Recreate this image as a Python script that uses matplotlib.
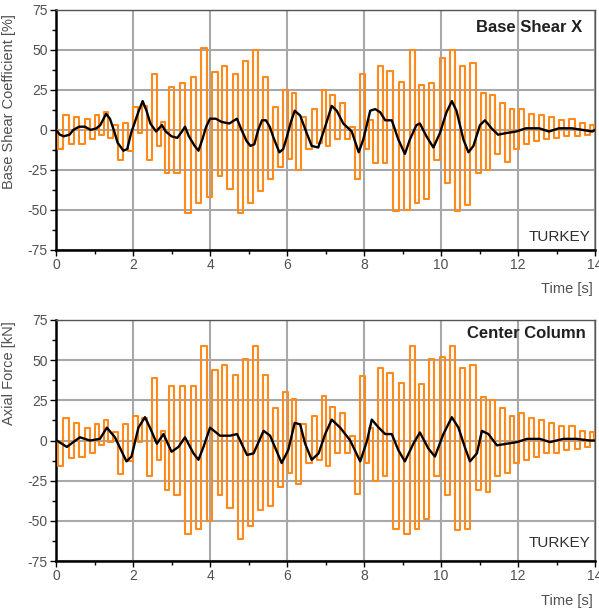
import matplotlib
matplotlib.use("Agg")
import matplotlib.pyplot as plt
import numpy as np
from matplotlib.ticker import MultipleLocator

plt.rcParams['font.family'] = ['Liberation Sans', 'DejaVu Sans']
plt.rcParams['axes.unicode_minus'] = False

# ---------------- data ----------------
# orange (high-frequency) series: time of each extreme [s]
t_orange = [0.00, 0.10, 0.28, 0.40, 0.55, 0.67, 0.82, 0.93, 1.07, 1.18, 1.30, 1.42, 1.55, 1.66,
            1.82, 1.94, 2.07, 2.18, 2.30, 2.42, 2.57, 2.68, 2.78, 2.88, 3.00, 3.15, 3.28, 3.43,
            3.57, 3.69, 3.85, 3.97, 4.13, 4.26, 4.36, 4.52, 4.65, 4.78, 4.94, 5.04, 5.17, 5.30,
            5.43, 5.56, 5.70, 5.82, 5.96, 6.08, 6.18, 6.31, 6.44, 6.57, 6.70, 6.83, 6.96, 7.06,
            7.18, 7.31, 7.44, 7.57, 7.70, 7.82, 7.95, 8.08, 8.18, 8.31, 8.42, 8.54, 8.66, 8.85,
            8.97, 9.11, 9.26, 9.38, 9.49, 9.62, 9.75, 9.88, 10.04, 10.16, 10.30, 10.43, 10.56,
            10.68, 10.84, 10.98, 11.10, 11.22, 11.34, 11.46, 11.60, 11.72, 11.85, 11.96, 12.10,
            12.22, 12.36, 12.48, 12.62, 12.74, 12.88, 13.00, 13.15, 13.26, 13.41, 13.52, 13.67,
            13.78, 13.93, 14.00]

shear_orange = [0, -12, 9, -9, 8, -9, 7, -6, 9, -3, 11, -5, 3, -19,
                4, -13, 14, -2, 15, -19, 35, -10, 5, -27, 27, -27, 29, -52,
                33, -46, 51, -42, 36, -29, 40, -37, 35, -52, 43, -46, 50, -38,
                33, -31, 14, -23, 25, -18, 23, -25, 8, -12, 13, -8, 25, -10,
                22, -6, 17, -6, 2, -31, 35, -12, 6, -21, 40, -21, 37, -51,
                30, -50, 50, -46, 28, -43, 29, -19, 45, -33, 50, -51, 40,
                -47, 42, -27, 23, -25, 22, -15, 17, -20, 13, -12, 13,
                -9, 10, -7, 9, -6, 8, -5, 6, -4, 7, -4, 4,
                -3, 3, 0]

axial_orange = [0, -16, 14, -11, 11, -10, 8, -8, 10, -3, 13, -1, 5, -21,
                10, -13, 15, -1, 14, -22, 39, -12, 6, -31, 34, -34, 34, -58,
                34, -55, 59, -50, 44, -34, 47, -42, 41, -61, 51, -53, 59, -43,
                41, -41, 20, -29, 30, -20, 26, -27, 10, -14, 15, -12, 28, -16,
                21, -8, 17, -8, 3, -33, 40, -14, 8, -25, 45, -22, 42, -55,
                36, -58, 59, -55, 35, -49, 51, -22, 52, -34, 59, -56, 45,
                -55, 47, -31, 27, -32, 25, -22, 20, -20, 15, -14, 17,
                -12, 14, -10, 13, -8, 11, -8, 9, -6, 9, -5, 6,
                -4, 5, 0]

# black (low-frequency) series
t_shear_black = [0, 0.1, 0.2, 0.35, 0.45, 0.6, 0.75, 0.9, 1.05, 1.15, 1.3, 1.4, 1.5, 1.6, 1.75,
                 1.85, 1.95, 2.05, 2.15, 2.25, 2.35, 2.45, 2.6, 2.75, 2.85, 3.0, 3.15, 3.3, 3.35,
                 3.45, 3.6, 3.7, 3.8, 3.9, 4.0, 4.15, 4.3, 4.5, 4.7, 4.8, 4.95, 5.05, 5.15, 5.25,
                 5.35, 5.45, 5.55, 5.65, 5.8, 5.9, 6.0, 6.1, 6.2, 6.34, 6.51, 6.64, 6.81, 6.99,
                 7.16, 7.29, 7.46, 7.68, 7.86, 7.98, 8.16, 8.29, 8.42, 8.55, 8.72, 8.89, 9.06,
                 9.19, 9.36, 9.45, 9.62, 9.80, 9.97, 10.14, 10.28, 10.4, 10.58, 10.71, 10.84,
                 11.01, 11.14, 11.31, 11.48, 11.69, 11.95, 12.2, 12.55, 12.8, 13.06, 13.4, 13.67,
                 13.93, 14.0]
shear_black = [0, -3, -4, -3, 0, 2, 2, 0, 1, 3, 10, 7, 0, -8, -13,
               -12, -2, 5, 12, 18, 12, 4, -1, 3, -1, -4, -5, 0, 2,
               -4, -10, -13, -6, 2, 7, 7, 5, 4, 7, 1, -7, -10, -9, 0,
               6, 6, 2, -5, -14, -12, -4, 5, 12, 9, -2, -10, -11, 2,
               15, 12, 4, -1, -14, -6, 12, 13, 11, 6, 6, -6, -15,
               -6, 3, 4, -4, -11, -2, 11, 18, 12, -6, -14, -10,
               3, 6, 1, -3, -2, -1, 1, 1, -1, 1, 1, 0,
               -1, 0]

t_axial_black = [0.02, 0.28, 0.62, 0.88, 1.14, 1.32, 1.53, 1.83, 1.96, 2.14, 2.31, 2.44, 2.62,
                 2.79, 3.0, 3.18, 3.35, 3.57, 3.7, 3.83, 4.0, 4.26, 4.52, 4.7, 4.96, 5.13, 5.39,
                 5.56, 5.86, 6.03, 6.2, 6.34, 6.47, 6.64, 6.82, 6.99, 7.16, 7.38, 7.64, 7.9,
                 8.08, 8.2, 8.38, 8.55, 8.72, 8.89, 9.06, 9.28, 9.45, 9.67, 9.84, 10.06, 10.28,
                 10.45, 10.63, 10.75, 10.93, 11.06, 11.23, 11.45, 11.71, 11.97, 12.23, 12.57,
                 12.83, 13.17, 13.52, 13.86, 14.0]
axial_black = [0, -4, 2, 0, 1, 8, 2, -13, -10, 8, 14.5, 8, -2,
               4, -7, -4, 2, -8, -12, -4, 8, 3, 3, 4, -9, -8, 6,
               3, -14, -6, 11, 10, -2, -12, -8, 4, 13, 8, 0, -13,
               0, 13, 8, 4, 4, -6, -13, -2, 5, -5, -10, 4, 14.5,
               8, -5, -13, -8, 6, 4, -3, -2, -1, 1, 1,
               -1, 1, 1, 0, 0]

panels = [
    dict(orange=shear_orange, t_black=t_shear_black, black=shear_black,
         ylabel='Base Shear Coefficient [%]', title='Base Shear X', label_y=0.62,
         title_x=0.976, title_y=0.925, station_y=0.054,
         rect=[0.0935, 0.591, 0.900, 0.3928]),
    dict(orange=axial_orange, t_black=t_axial_black, black=axial_black,
         ylabel='Axial Force [kN]', title='Center Column', label_y=0.78,
         title_x=0.983, title_y=0.942, station_y=0.075,
         rect=[0.0935, 0.0818, 0.900, 0.3945]),
]
yticks = [-75, -50, -25, 0, 25, 50, 75]
xticks = [0, 2, 4, 6, 8, 10, 12, 14]
station = 'TURKEY'

# ---------------- plot ----------------
fig = plt.figure(figsize=(5.99, 6.11), dpi=100)
orange = '#ff8a1c'
tick_col = '#505050'

for p in panels:
    ax = fig.add_axes(p['rect'])
    ax.plot(t_orange, p['orange'], color=orange, lw=1.5, drawstyle='steps-mid', zorder=3)
    ax.plot(p['t_black'], p['black'], color='black', lw=1.7, zorder=4)
    ax.set_xlim(0, 14)
    ax.set_ylim(-75, 75)
    ax.set_xticks(xticks)
    ax.set_yticks(yticks)
    ax.xaxis.set_minor_locator(MultipleLocator(1))
    ax.yaxis.set_minor_locator(MultipleLocator(12.5))
    ax.grid(True, which='major', color='#a8a8a8', lw=1.5, zorder=0)
    ax.tick_params(which='both', direction='out', colors='black', labelcolor=tick_col,
                   labelsize=10, width=1.0)
    ax.tick_params(which='major', length=4, pad=2)
    ax.tick_params(which='minor', length=3)
    ax.tick_params(axis='x', pad=2)
    for s in ['left', 'bottom']:
        ax.spines[s].set_linewidth(1.8)
        ax.spines[s].set_color('black')
    for s in ['top', 'right']:
        ax.spines[s].set_linewidth(1.0)
        ax.spines[s].set_color('#555555')
    ax.set_ylabel(p['ylabel'], fontsize=10.5, color='#505050')
    ax.yaxis.set_label_coords(-0.074, p['label_y'])
    ax.text(p['title_x'], p['title_y'], p['title'], transform=ax.transAxes, ha='right',
            va='center', fontsize=12, fontweight='bold', color='#202020')
    ax.text(0.991, p['station_y'], station, transform=ax.transAxes, ha='right', va='center',
            fontsize=11, color='#303030')
    ax.text(0.995, -0.165, 'Time [s]', transform=ax.transAxes, ha='right', va='center',
            fontsize=10.5, color='#505050')

fig.savefig('out.png', dpi=100)
